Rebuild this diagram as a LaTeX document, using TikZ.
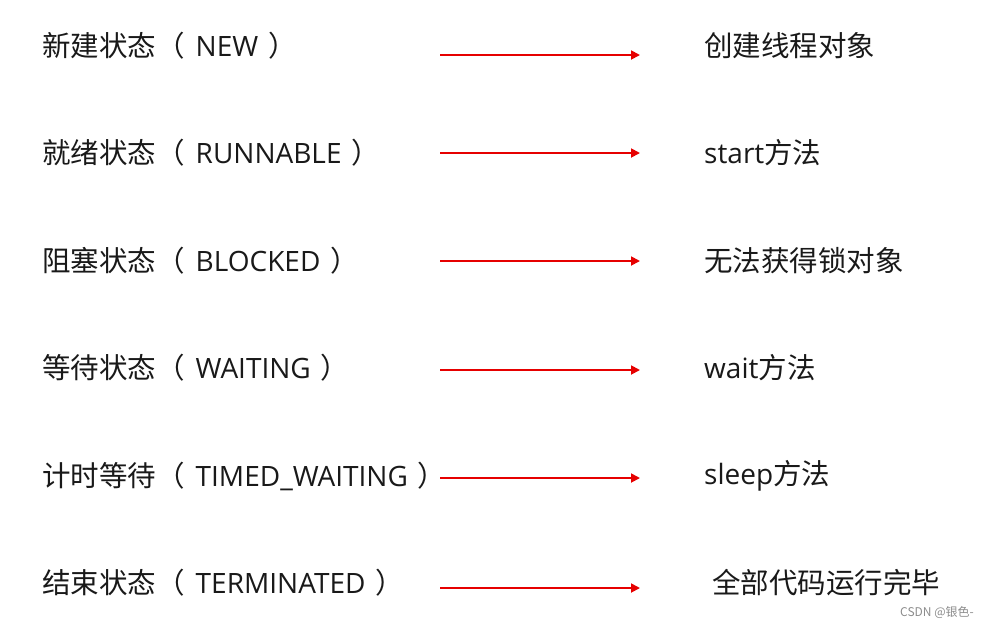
\documentclass[tikz,border=0pt]{standalone}
\usepackage{fontspec}
\setmainfont{Noto Sans CJK SC}
\newfontfamily\lat{Open Sans}
\usetikzlibrary{arrows.meta}
\definecolor{arrred}{RGB}{230,0,0}
\tikzset{
  lbl/.style={anchor=west,inner sep=0pt,font=\fontsize{28.5}{31}\selectfont,text=black!90},
  arr/.style={draw=arrred,line width=1.8pt,-{Triangle[length=9pt,width=9pt]}},
  wm/.style={anchor=west,inner sep=0pt,font=\fontsize{12}{14}\selectfont,text=black!45}
}
\newcommand{\la}[1]{{\lat\fontsize{28}{31}\selectfont #1}}
\newcommand{\pl}[1]{（\hspace{11pt}\la{#1}\hspace{10pt}）}
\begin{document}
\begin{tikzpicture}[x=1pt,y=-1pt]
\useasboundingbox (0,0) rectangle (993,630);
\node[lbl] (l1) at (42,46) {新建状态\pl{NEW}};
\node[lbl] (l2) at (42,153) {就绪状态\pl{RUNNABLE}};
\node[lbl] (l3) at (42,261) {阻塞状态\pl{BLOCKED}};
\node[lbl] (l4) at (42,368) {等待状态\pl{WAITING}};
\node[lbl] (l5) at (42,476) {计时等待\pl{TIMED\_WAITING}};
\node[lbl] (l6) at (42,583) {结束状态\pl{TERMINATED}};
\node[lbl] (r1) at (704,46) {创建线程对象};
\node[lbl] (r2) at (704,153) {\la{start}方法};
\node[lbl] (r3) at (704,261) {无法获得锁对象};
\node[lbl] (r4) at (704,368) {\la{wait}方法};
\node[lbl] (r5) at (704,476) {\la{sleep}方法};
\node[lbl] (r6) at (712,583) {全部代码运行完毕};
\foreach \i/\y in {1/55,2/153,3/261,4/370,5/478,6/588}{
  \coordinate (s\i) at (440,\y);
  \coordinate (e\i) at (640,\y);
  \draw[arr] (s\i) -- (e\i);
}
\node[wm] (wm) at (900,612) {CSDN @银色-};
\end{tikzpicture}
\end{document}
